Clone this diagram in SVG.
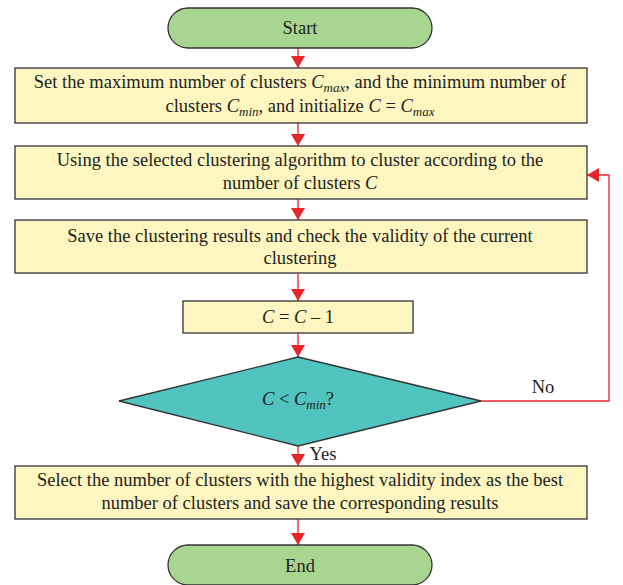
<svg xmlns="http://www.w3.org/2000/svg" width="623" height="585" viewBox="0 0 623 585">
<style>
.t{font-family:"Liberation Serif","Times New Roman",serif;font-size:18.5px;fill:#231f20;text-anchor:middle}
.i{font-style:italic}
.s{font-style:italic;font-size:13px}
.box{fill:#fdf6c0;stroke:#333;stroke-width:1.3}
.pill{fill:#a8d590;stroke:#333;stroke-width:1.3}
.dia{fill:#52c4bf;stroke:#333;stroke-width:1.3}
.c{stroke:#e8262a;stroke-width:1.3;fill:none}
</style>
<defs>
<marker id="ah" markerUnits="userSpaceOnUse" markerWidth="14" markerHeight="14" refX="12" refY="7" orient="auto">
<path d="M0,0 L12,7 L0,14 Z" fill="#e8262a"/>
</marker>
</defs>
<rect width="623" height="585" fill="#fff"/>
<g id="connectors">
<line class="c" x1="298" y1="48" x2="298" y2="68" marker-end="url(#ah)"/>
<line class="c" x1="298" y1="123" x2="298" y2="146" marker-end="url(#ah)"/>
<line class="c" x1="298" y1="199" x2="298" y2="220" marker-end="url(#ah)"/>
<line class="c" x1="298" y1="273" x2="298" y2="301" marker-end="url(#ah)"/>
<line class="c" x1="298" y1="333" x2="298" y2="357" marker-end="url(#ah)"/>
<line class="c" x1="298" y1="446" x2="298" y2="466" marker-end="url(#ah)"/>
<line class="c" x1="298" y1="519" x2="298" y2="545" marker-end="url(#ah)"/>
<polyline class="c" points="481,401 609,401 609,175 587,175" marker-end="url(#ah)"/>
<text class="t" x="543" y="393">No</text>
<text class="t" x="323" y="460">Yes</text>
</g>
<g id="start">
<rect class="pill" x="168" y="8" width="264" height="40" rx="20" ry="20"/>
<text class="t" x="300" y="34">Start</text>
</g>
<g id="init">
<rect class="box" x="15" y="68" width="572" height="55"/>
<text class="t" x="300" y="88">Set the maximum number of clusters <tspan class="i">C</tspan><tspan class="s" dy="4">max</tspan><tspan dy="-4">, and the minimum number of</tspan></text>
<text class="t" x="300" y="112">clusters <tspan class="i">C</tspan><tspan class="s" dy="4">min</tspan><tspan dy="-4">, and initialize </tspan><tspan class="i">C</tspan> = <tspan class="i">C</tspan><tspan class="s" dy="4">max</tspan></text>
</g>
<g id="cluster">
<rect class="box" x="15" y="146" width="572" height="53"/>
<text class="t" x="300" y="166">Using the selected clustering algorithm to cluster according to the</text>
<text class="t" x="300" y="189">number of clusters <tspan class="i">C</tspan></text>
</g>
<g id="save">
<rect class="box" x="15" y="220" width="572" height="53"/>
<text class="t" x="300" y="242">Save the clustering results and check the validity of the current</text>
<text class="t" x="300" y="264">clustering</text>
</g>
<g id="decrement">
<rect class="box" x="183" y="301" width="230" height="32"/>
<text class="t" x="298" y="323"><tspan class="i">C</tspan> = <tspan class="i">C</tspan> – 1</text>
</g>
<g id="decision">
<polygon class="dia" points="298,357 481,401 298,446 119,401"/>
<text class="t" x="298" y="405"><tspan class="i">C</tspan> &lt; <tspan class="i">C</tspan><tspan class="s" dy="4">min</tspan><tspan dy="-4">?</tspan></text>
</g>
<g id="select">
<rect class="box" x="15" y="466" width="572" height="53"/>
<text class="t" x="300" y="486">Select the number of clusters with the highest validity index as the best</text>
<text class="t" x="300" y="509">number of clusters and save the corresponding results</text>
</g>
<g id="end">
<rect class="pill" x="168" y="545" width="264" height="40" rx="20" ry="20"/>
<text class="t" x="300" y="572">End</text>
</g>
</svg>
